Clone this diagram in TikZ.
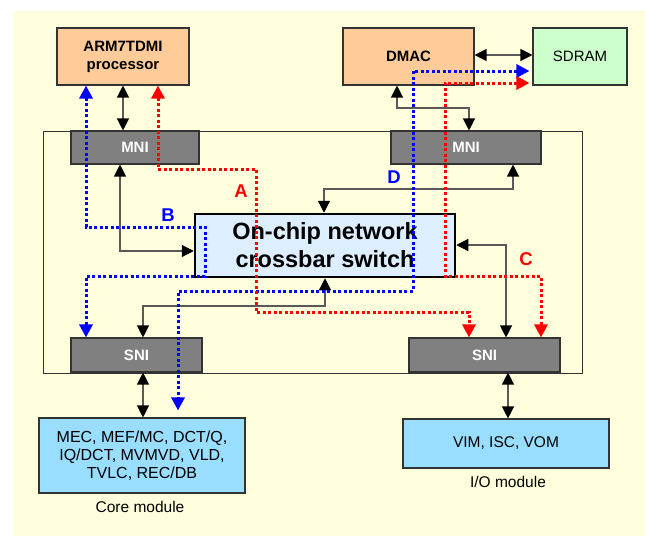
\documentclass[tikz,border=0pt]{standalone}
\usepackage{fontspec}
\setmainfont{Liberation Sans}
\usetikzlibrary{arrows.meta,calc}
\definecolor{cream}{HTML}{FFFFDD}
\definecolor{peach}{HTML}{FFCC99}
\definecolor{mint}{HTML}{CCFFCC}
\definecolor{nigray}{HTML}{808080}
\definecolor{xbarblue}{HTML}{DDEEFF}
\definecolor{modblue}{HTML}{99DDFF}
\definecolor{edge}{HTML}{333333}
\begin{document}
\begin{tikzpicture}[x=1pt,y=-1pt,
  box/.style={draw=edge,line width=1.1pt,inner sep=0pt,align=center},
  nibox/.style={box,fill=nigray,text=white,font=\fontsize{15}{18}\selectfont\bfseries},
  conn/.style={draw=black!65,line width=1.2pt,{Triangle[length=12pt,width=12pt,color=black]}-{Triangle[length=12pt,width=12pt,color=black]}},
  bluepath/.style={draw=blue,line width=3pt,dash pattern=on 3pt off 2.5pt,{Triangle[length=13pt,width=13pt]}-{Triangle[length=13pt,width=13pt]},color=blue},
  redpath/.style={draw=red,line width=3pt,dash pattern=on 3pt off 2.5pt,{Triangle[length=13pt,width=13pt]}-{Triangle[length=13pt,width=13pt]},color=red},
  lbl/.style={font=\fontsize{18.5}{20}\selectfont\bfseries},
  modlabel/.style={font=\fontsize{15.5}{18}\selectfont}
]
\useasboundingbox (0,0) rectangle (645,536);
\fill[cream] (13,11) rectangle (645,536);
\draw[edge,line width=1pt] (43,131) rectangle (582,373);

\node[box,fill=peach,minimum width=132pt,minimum height=57pt,font=\fontsize{15}{18}\selectfont\bfseries] (arm) at (123,56.5) {ARM7TDMI\\processor};
\node[box,fill=peach,minimum width=131pt,minimum height=57pt,font=\fontsize{15}{18}\selectfont\bfseries] (dmac) at (408.5,56.5) {DMAC};
\node[box,fill=mint,minimum width=94pt,minimum height=57pt,font=\fontsize{15}{18}\selectfont] (sdram) at (580,56.5) {SDRAM};

\node[nibox,minimum width=128pt,minimum height=33pt] (mnil) at (135,147.5) {MNI};
\node[nibox,minimum width=150pt,minimum height=33pt] (mnir) at (466,147.5) {MNI};

\node[draw=black,line width=2.5pt,fill=xbarblue,inner sep=0pt,align=center,minimum width=260pt,minimum height=63pt,font=\fontsize{23.5}{28}\selectfont\bfseries] (xbar) at (325,245.5) {On-chip network\\crossbar switch};

\node[nibox,minimum width=131pt,minimum height=34pt] (snil) at (136.5,355) {SNI};
\node[nibox,minimum width=151pt,minimum height=34pt] (snir) at (484.5,355) {SNI};

\node[box,fill=modblue,minimum width=206pt,minimum height=75pt,font=\fontsize{16}{18}\selectfont] (core) at (142,455.5) {MEC, MEF/MC, DCT/Q,\\IQ/DCT, MVMVD, VLD,\\TVLC, REC/DB};
\node[box,fill=modblue,minimum width=206pt,minimum height=49pt,font=\fontsize{15.5}{18}\selectfont] (io) at (506,443.5) {VIM, ISC, VOM};

\node[modlabel] (corelbl) at (140,507) {Core module};
\node[modlabel] (iolbl) at (508,482) {I/O module};

% black connectors
\draw[conn] (123,0 |- arm.south) -- (123,0 |- mnil.north);
\draw[conn] (120,0 |- mnil.south) |- (xbar.west |- 0,251);
\draw[conn] (397,0 |- dmac.south) -- (397,108) -| (469,0 |- mnir.north);
\draw[conn] (dmac.east |- 0,55) -- (sdram.west |- 0,55);
\draw[conn] (513,0 |- mnir.south) |- (324,189) -- (324,0 |- xbar.north);
\draw[conn] (325,0 |- xbar.south) |- (143,306) -- (143,0 |- snil.north);
\draw[conn] (xbar.east |- 0,245) -| (506,0 |- snir.north);
\draw[conn] (143,0 |- snil.south) -- (143,0 |- core.north);
\draw[conn] (508,0 |- snir.south) -- (508,0 |- io.north);

% dotted paths
\coordinate (dend) at ($(178,0 |- core.north)+(0,-7)$);
\draw[bluepath] (86,0 |- arm.south) -- (86,227) -- (205,227) -- (205,276) -- (86,276) -- (86,0 |- snil.north);
\draw[bluepath,shorten <=3pt] (sdram.west |- 0,71) -- (413,71) -- (413,291) -- (178,291) -- (dend);
\draw[redpath] (158,0 |- arm.south) -- (158,169) -- (256,169) -- (256,312) -- (469,312) -- (469,0 |- snir.north);
\draw[redpath,shorten <=3pt] (sdram.west |- 0,83) -- (445,83) -- (445,276) -- (541,276) -- (541,0 |- snir.north);

\node[lbl,text=red] (la) at (241,191) {A};
\node[lbl,text=blue] (lb) at (168,215) {B};
\node[lbl,text=red] (lc) at (526,259) {C};
\node[lbl,text=blue] (ld) at (394,177) {D};
\end{tikzpicture}
\end{document}
